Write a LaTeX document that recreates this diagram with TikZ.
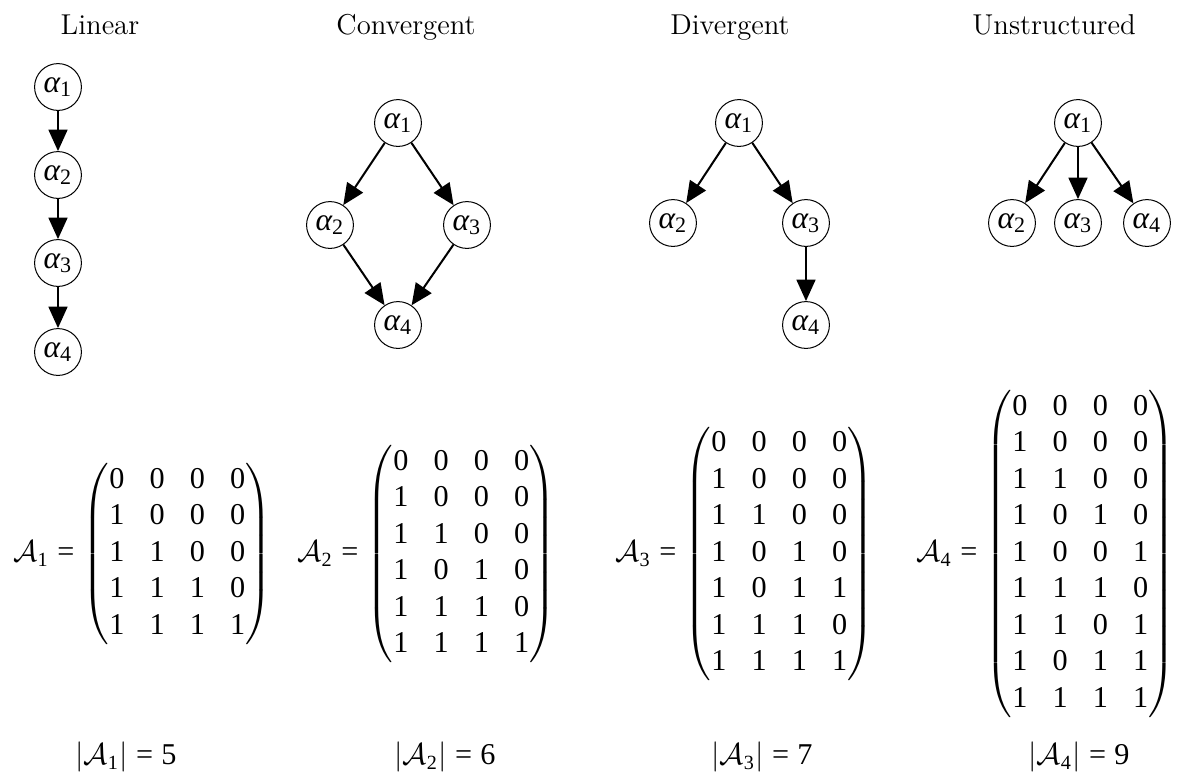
\documentclass[tikz,border=0pt]{standalone}
\usepackage{amsmath}
\usepackage[no-math]{fontspec}
\newfontfamily\tms{Liberation Serif}[NFSSFamily=tmsf]
\usetikzlibrary{arrows.meta}

% Times-style digits and equals sign in formulas
\DeclareSymbolFont{tmsdig}{TU}{tmsf}{m}{n}
\DeclareMathSymbol{0}{\mathalpha}{tmsdig}{`0}
\DeclareMathSymbol{1}{\mathalpha}{tmsdig}{`1}
\DeclareMathSymbol{2}{\mathalpha}{tmsdig}{`2}
\DeclareMathSymbol{3}{\mathalpha}{tmsdig}{`3}
\DeclareMathSymbol{4}{\mathalpha}{tmsdig}{`4}
\DeclareMathSymbol{5}{\mathalpha}{tmsdig}{`5}
\DeclareMathSymbol{6}{\mathalpha}{tmsdig}{`6}
\DeclareMathSymbol{7}{\mathalpha}{tmsdig}{`7}
\DeclareMathSymbol{8}{\mathalpha}{tmsdig}{`8}
\DeclareMathSymbol{9}{\mathalpha}{tmsdig}{`9}
\DeclareMathSymbol{=}{\mathrel}{tmsdig}{`=}

% Greek variable with a Times-style italic alpha
\newcommand\va[1]{\text{\tms\itshape α}_{#1}}

\tikzset{
  state/.style={circle, draw, line width=0.4pt, inner sep=0.5pt,
    minimum size=18.6pt, font=\fontsize{12.5}{15}\selectfont},
  edge/.style={-{Triangle[length=8.5pt,width=7.5pt]}, line width=0.8pt},
  title/.style={anchor=base, inner sep=0pt, font=\fontsize{11.4}{13.7}\selectfont},
  adjm/.style={anchor=west, inner sep=0pt, font=\fontsize{12}{14.5}\selectfont},
  card/.style={inner sep=0pt, font=\fontsize{12}{14.5}\selectfont}
}

\begin{document}
\begin{tikzpicture}[x=0.397pt, y=-0.397pt]
\useasboundingbox (0,0) rectangle (1177,775);

% column headings
\node[title] (tl) at (100,34)  {Linear};
\node[title] (tc) at (406,34)  {Convergent};
\node[title] (td) at (730,34)  {Divergent};
\node[title] (tu) at (1054,34) {Unstructured};

% linear chain
\node[state] (l1) at (58,87)  {$\va1$};
\node[state] (l2) at (58,175) {$\va2$};
\node[state] (l3) at (58,263) {$\va3$};
\node[state] (l4) at (58,352) {$\va4$};
\draw[edge] (l1) -- (l2);
\draw[edge] (l2) -- (l3);
\draw[edge] (l3) -- (l4);

% convergent
\node[state] (c1) at (398,123) {$\va1$};
\node[state] (c2) at (330,225) {$\va2$};
\node[state] (c3) at (467,225) {$\va3$};
\node[state] (c4) at (398,325) {$\va4$};
\draw[edge] (c1) -- (c2);
\draw[edge] (c1) -- (c3);
\draw[edge] (c2) -- (c4);
\draw[edge] (c3) -- (c4);

% divergent
\node[state] (d1) at (739,123) {$\va1$};
\node[state] (d2) at (673,223) {$\va2$};
\node[state] (d3) at (806,223) {$\va3$};
\node[state] (d4) at (806,325) {$\va4$};
\draw[edge] (d1) -- (d2);
\draw[edge] (d1) -- (d3);
\draw[edge] (d3) -- (d4);

% unstructured
\node[state] (u1) at (1078,123) {$\va1$};
\node[state] (u2) at (1012,223) {$\va2$};
\node[state] (u3) at (1078,223) {$\va3$};
\node[state] (u4) at (1147,223) {$\va4$};
\draw[edge] (u1) -- (u2);
\draw[edge] (u1) -- (u3);
\draw[edge] (u1) -- (u4);

% adjacency matrices
\node[adjm] (m1) at (13,554) {$\mathcal{A}_1 = \begin{pmatrix}
0&0&0&0\\ 1&0&0&0\\ 1&1&0&0\\ 1&1&1&0\\ 1&1&1&1
\end{pmatrix}$};
\node[adjm] (m2) at (297,554) {$\mathcal{A}_2 = \begin{pmatrix}
0&0&0&0\\ 1&0&0&0\\ 1&1&0&0\\ 1&0&1&0\\ 1&1&1&0\\ 1&1&1&1
\end{pmatrix}$};
\node[adjm] (m3) at (615,554) {$\mathcal{A}_3 = \begin{pmatrix}
0&0&0&0\\ 1&0&0&0\\ 1&1&0&0\\ 1&0&1&0\\ 1&0&1&1\\ 1&1&1&0\\ 1&1&1&1
\end{pmatrix}$};
\node[adjm] (m4) at (916,554) {$\mathcal{A}_4 = \begin{pmatrix}
0&0&0&0\\ 1&0&0&0\\ 1&1&0&0\\ 1&0&1&0\\ 1&0&0&1\\ 1&1&1&0\\ 1&1&0&1\\ 1&0&1&1\\ 1&1&1&1
\end{pmatrix}$};

% cardinalities
\node[card] (n1) at (126,757)  {$|\mathcal{A}_1| = 5$};
\node[card] (n2) at (445,757)  {$|\mathcal{A}_2| = 6$};
\node[card] (n3) at (762,757)  {$|\mathcal{A}_3| = 7$};
\node[card] (n4) at (1079,757) {$|\mathcal{A}_4| = 9$};
\end{tikzpicture}
\end{document}
